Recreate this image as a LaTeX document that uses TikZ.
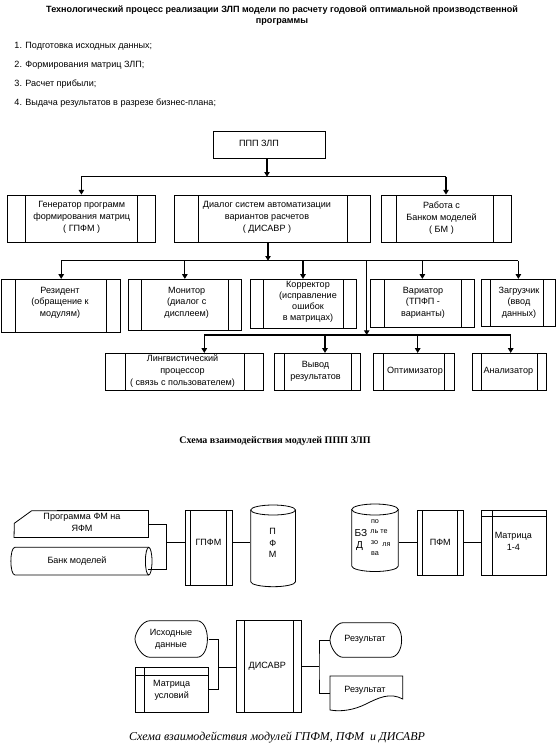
\documentclass[tikz,border=0pt]{standalone}
\usepackage{fontspec}
\setmainfont{Liberation Sans}
\newfontfamily\tnr{Liberation Serif}
\usetikzlibrary{arrows.meta,fit,calc}
\tikzset{
 box/.style={draw, line width=0.6pt, inner sep=0pt},
 ln/.style={line width=0.6pt},
 txt/.style={font=\fontsize{6.8}{9}\selectfont, inner sep=0pt, align=center},
 txs/.style={font=\fontsize{6.8}{8.4}\selectfont, inner sep=0pt, align=center},
 sm/.style={font=\fontsize{5.4}{6}\selectfont, inner sep=0pt},
 bg/.style={font=\fontsize{7.6}{8}\selectfont, inner sep=0pt},
 conn/.style={line width=0.9pt},
 arr/.style={conn, -{Triangle[width=4pt,length=3.5pt]}},
 thin/.style={line width=0.6pt},
}
\newcommand\pbox[7]{%
 \coordinate (#1-a) at (#2,#3); \coordinate (#1-b) at (#4,#5);
 \node[box, fit=(#1-a)(#1-b)] (#1) {};
 \draw[ln] (#6,#3) -- (#6,#5) (#7,#3) -- (#7,#5);}
\newcommand\rbox[5]{%
 \coordinate (#1-a) at (#2,#3); \coordinate (#1-b) at (#4,#5);
 \node[box, fit=(#1-a)(#1-b)] (#1) {};}
\newcommand\ibox[5]{%
 \coordinate (#1-a) at (#2,#3); \coordinate (#1-b) at (#4,#5);
 \node[inner sep=0pt, fit=(#1-a)(#1-b)] (#1) {};}
\begin{document}
\begin{tikzpicture}[x=0.75pt,y=-0.75pt]
\useasboundingbox[fill=white] (0,0) rectangle (557,751);
% title
\node[font=\bfseries\fontsize{6.8}{8}\selectfont, inner sep=0pt] (title1) at (282,10) {Технологический процесс реализации ЗЛП модели по расчету годовой оптимальной производственной};
\node[font=\bfseries\fontsize{6.8}{8}\selectfont, inner sep=0pt] (title2) at (282,21.7) {программы};
\node[txt, anchor=west] (l1) at (14.2,46.7) {1. Подготовка исходных данных;};
\node[txt, anchor=west] (l2) at (14.2,65.7) {2. Формирования матриц ЗЛП;};
\node[txt, anchor=west] (l3) at (14.2,84.3) {3. Расчет прибыли;};
\node[txt, anchor=west] (l4) at (14.2,102.7) {4. Выдача результатов в разрезе бизнес-плана;};
% top box
\rbox{top}{213}{131}{325}{158.3}
\node[txt] (ttop) at (259,143) {ППП ЗЛП};
\coordinate (h1) at (267,176.7);
% level 2
\pbox{gpfm}{7.8}{195}{155}{242}{25.6}{137.5}
\pbox{disavr}{174.8}{195}{370}{242}{198}{347.4}
\pbox{bm}{381}{195}{511}{242}{396.8}{493.8}
\node[txt] (tgpfm) at (81.7,217.7) {Генератор программ\\формирования матриц\\( ГПФМ )};
\node[txt] (tdisavr) at (267,217.7) {Диалог систем автоматизации\\вариантов расчетов\\( ДИСАВР )};
\node[txt] (tbm) at (441.5,217.7) {Работа с\\Банком моделей\\( БМ )};
\draw[arr] (top.south -| h1) -- (h1);
\draw[conn] (h1 -| gpfm.north) -- (h1 -| bm.north);
\draw[arr] (h1 -| gpfm.north) -- (gpfm.north);
\draw[arr] (h1 -| bm.north) -- (bm.north);
% level 3
\pbox{rez}{1.7}{279.3}{120.7}{332.3}{15.3}{106.7}
\pbox{mon}{128}{279.3}{241.7}{330}{141}{228}
\pbox{kor}{250}{279.3}{356}{328.3}{263}{343.3}
\pbox{var}{370.7}{279.3}{474}{327.3}{384}{461.7}
\pbox{zag}{481.7}{279.3}{555}{326}{490.7}{543.3}
\node[txs] (trez) at (60,302.7) {Резидент\\(обращение к\\модулям)};
\node[txs] (tmon) at (186.7,302.7) {Монитор\\(диалог с\\дисплеем)};
\node[txs] (tkor) at (308,302) {Корректор\\(исправление\\ошибок\\в матрицах)};
\node[txs] (tvar) at (423,302.7) {Вариатор\\(ТПФП -\\варианты)};
\node[txs] (tzag) at (519,302.7) {Загрузчик\\(ввод\\данных)};
\coordinate (h2) at (268,260.7);
\draw[arr] (h2 |- disavr.south) -- (h2);
\draw[conn] (h2 -| rez.north) -- (h2 -| zag.north);
\foreach \n in {rez,mon,kor,var,zag}{\draw[arr] (h2 -| \n.north) -- (\n.north);}
% level 4
\pbox{ling}{105}{353.3}{263.3}{390}{125}{244.3}
\pbox{vyv}{274.3}{353.3}{360.7}{390}{284.3}{351.7}
\pbox{opt}{373.3}{353.3}{454.3}{390}{383.3}{444.3}
\pbox{anl}{472.3}{353.3}{546.7}{390}{481.7}{537.3}
\node[txt] (tling) at (182.5,371.5) {Лингвистический\\процессор\\( связь с пользователем)};
\node[txt] (tvyv) at (315.5,371.2) {Вывод\\результатов};
\node[txt] (topt) at (415,371.7) {Оптимизатор};
\node[txt] (tanl) at (508.3,371.7) {Анализатор};
\coordinate (v1) at (366.7,260.7);
\coordinate (h3) at (366.7,335);
\coordinate (a1) at (204.3,335);
\coordinate (a2) at (325,335);
\coordinate (a3) at (417.7,335);
\coordinate (a4) at (510.7,335);
\draw[arr] (v1) -- (h3);
\draw[conn] (a1) -- (a4);
\draw[arr] (a1) -- (a1 |- ling.north);
\draw[arr] (a2) -- (a2 |- vyv.north);
\draw[arr] (a3) -- (a3 |- opt.north);
\draw[arr] (a4) -- (a4 |- anl.north);
% caption 1
\node[font=\tnr\bfseries\fontsize{7.5}{9}\selectfont, inner sep=0pt] (cap1) at (275,441) {Схема взаимодействия модулей ППП ЗЛП};
% ---- lower diagram 1
\ibox{prog}{14.3}{510.7}{148.3}{537.3}
\draw[thin] (prog.south west) -- (14.3,523.3) -- (31.7,510.7) -- (prog.north east) -- (prog.south east) -- cycle;
\node[txt] (tprog) at (82,522.5) {Программа ФМ на\\ЯФМ};
\ibox{bank}{11}{547.3}{152}{575}
\draw[thin] (148.7,547.3) -- (15,547.3) .. controls (9.5,547.3) and (9.5,575) .. (15,575) -- (148.7,575);
\draw[thin] (148.7,561.15) ellipse[x radius=3.3, y radius=13.85];
\node[txt] (tbank) at (77,561) {Банк моделей};
\pbox{gp}{185}{510.7}{232.3}{585}{190.7}{226.7}
\node[txt] (tgp) at (208.5,542.3) {ГПФМ};
\ibox{pfmc}{250.7}{505}{295.5}{586.7}
\draw[thin] (250.7,510) -- (250.7,581.7) arc[start angle=180, end angle=0, x radius=22.4, y radius=5] -- (295.5,510);
\draw[thin] (273.1,510) ellipse[x radius=22.4, y radius=5];
\node[font=\fontsize{6.8}{8.4}\selectfont, inner sep=0pt, align=center] (tpfmc) at (272.7,543) {П\\Ф\\М};
\coordinate (j1) at (166.7,542.3);
\coordinate (bankin) at (148.3,569);
\draw[thin] (prog.east) -| (j1) |- (bankin);
\draw[thin] (j1) -- (j1 -| gp.west);
\draw[thin] (gp.east |- j1) -- (j1 -| pfmc.west);
% БЗД
\ibox{bzd}{351.7}{504}{398.3}{571.7}
\draw[thin] (351.7,509.5) -- (351.7,566) arc[start angle=180, end angle=0, x radius=23.3, y radius=5.5] -- (398.3,509.5);
\draw[thin] (375,509.5) ellipse[x radius=23.3, y radius=5.5];
\node[sm] (bz1) at (375,522) {по};
\node[bg] (bz2) at (361,533.5) {БЗ};
\node[sm] (bz3) at (379,531.8) {ль те};
\node[bg] (bz4) at (359.5,546) {Д};
\node[sm] (bz5) at (374.5,543) {зо};
\node[sm] (bz6) at (386.5,544.3) {ля};
\node[sm] (bz7) at (375,554) {ва};
\pbox{pfm}{417.3}{510.7}{463.3}{575}{422.7}{457.7}
\node[txt] (tpfm) at (440.3,542.3) {ПФМ};
\rbox{mat}{481.7}{510.7}{546.7}{575}
\draw[ln] (492.3,510.7) -- (492.3,575) (481.7,516.7) -- (546.7,516.7);
\node[txt] (tmat) at (513.3,541.5) {Матрица\\1-4};
\draw[thin] (pfm.west) -- (pfm.west -| bzd.east);
\draw[thin] (pfm.east) -- (mat.west);
% ---- lower diagram 2
\ibox{isx}{135}{620.7}{208.3}{657.3}
\draw[thin] (150,620.7) -- (196.7,620.7) .. controls (211,620.7) and (211,657.3) .. (196.7,657.3) -- (150,657.3) .. controls (142,657.3) and (135,645) .. (135,639) .. controls (135,633) and (142,620.7) .. (150,620.7) -- cycle;
\node[txt] (tisx) at (171,639.5) {Исходные\\данные};
\rbox{mu}{135}{667.3}{208.3}{712.3}
\draw[ln] (144.3,667.3) -- (144.3,712.3) (135,675) -- (208.3,675);
\node[txt] (tmu) at (171.7,690) {Матрица\\условий};
\pbox{dis}{236.7}{620.7}{301.7}{712.3}{244}{293.3}
\node[txt] (tdis) at (267.3,666.7) {ДИСАВР};
\ibox{res1}{330}{622.7}{402.7}{657.3}
\draw[thin] (343,622.7) -- (390,622.7) .. controls (405.5,622.7) and (405.5,657.3) .. (390,657.3) -- (343,657.3) .. controls (336,657.3) and (330,646) .. (330,640) .. controls (330,634) and (336,622.7) .. (343,622.7) -- cycle;
\node[txt] (tres1) at (365,639) {Результат};
\ibox{res2}{330}{676}{402.7}{710}
\draw[thin] (330,676) -- (402.7,676) -- (402.7,699) .. controls (390,692) and (378,698) .. (366,704) .. controls (354,710) and (341,712) .. (330,710) -- cycle;
\node[txt] (tres2) at (365,690) {Результат};
\coordinate (j2) at (218.3,667.3);
\coordinate (j3) at (319,666.7);
\draw[thin] (isx.east) -| (j2) |- (mu.east);
\draw[thin] (j2) -- (j2 -| dis.west);
\draw[thin] (dis.east |- j3) -- (j3);
\draw[thin] (res1.west) -| (j3) |- (res2.west);
\node[font=\tnr\itshape\fontsize{9}{10}\selectfont, inner sep=0pt] (cap2) at (277,737.3) {Схема взаимодействия модулей ГПФМ, ПФМ \ и ДИСАВР};
\end{tikzpicture}
\end{document}
